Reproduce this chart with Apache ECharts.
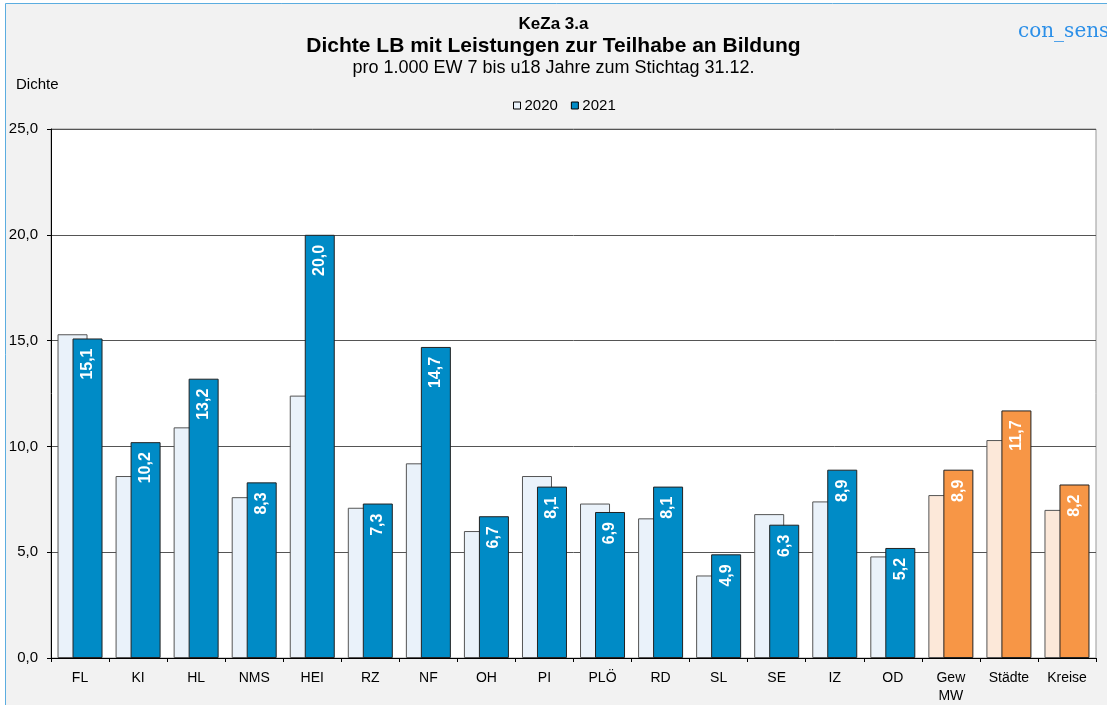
<!DOCTYPE html>
<html><head><meta charset="utf-8">
<script src="https://cdn.jsdelivr.net/npm/echarts@6/dist/echarts.min.js"></script>
<style>html,body{margin:0;padding:0;background:#fff}#c{width:1107px;height:705px}</style>
</head><body><div id="c"></div>
<script>
const categories = ['FL','KI','HL','NMS','HEI','RZ','NF','OH','PI','PLÖ','RD','SL','SE','IZ','OD','Gew\nMW','Städte','Kreise'];
const values2020 = [15.3,8.6,10.9,7.6,12.4,7.1,9.2,6.0,8.6,7.3,6.6,3.9,6.8,7.4,4.8,7.7,10.3,7.0];
const values2021 = [15.1,10.2,13.2,8.3,20.0,7.3,14.7,6.7,8.1,6.9,8.1,4.9,6.3,8.9,5.2,8.9,11.7,8.2];
const isAggregate = [0,0,0,0,0,0,0,0,0,0,0,0,0,0,0,1,1,1];
const yTicks = [0,5,10,15,20,25];

const c2020 = '#EAF2FA', c2021 = '#008BC6', o2020 = '#FCE8D9', o2021 = '#F79646';
const fmt = v => v.toFixed(1).replace('.', ',');
const font = 'Liberation Sans, Arial, sans-serif';

const chart = echarts.init(document.getElementById('c'));
chart.setOption({
  backgroundColor: '#ffffff',
  animation: false,
  textStyle: {fontFamily: font},
  graphic: [
    {type:'rect', z:-100, shape:{x:5.5,y:3.5,width:1200,height:800}, style:{fill:'#f2f2f2', stroke:'#5BADE0', lineWidth:1}},
    {type:'text', left:'center', top:16, style:{text:'KeZa 3.a', font:'bold 17px '+font, fill:'#000'}},
    {type:'text', left:'center', top:36, style:{text:'Dichte LB mit Leistungen zur Teilhabe an Bildung', font:'bold 21px '+font, fill:'#000'}},
    {type:'text', left:'center', top:59, style:{text:'pro 1.000 EW 7 bis u18 Jahre zum Stichtag 31.12.', font:'18px '+font, fill:'#000'}},
    {type:'text', left:16, top:77, style:{text:'Dichte', font:'15px '+font, fill:'#000'}},
    {type:'text', left:1018, top:22, style:{text:'con_sens', font:'20px "DejaVu Serif", "Liberation Serif", serif', fill:'#2b8fe8'}}
  ],
  legend: {
    top: 93, left: 508, itemWidth: 7, itemHeight: 7, itemGap: 13,
    icon: 'rect',
    textStyle: {fontSize: 15, color: '#000', fontFamily: font, padding:[0,0,0,-1]},
    data: [
      {name:'2020', itemStyle:{color:c2020, borderColor:'#000', borderWidth:1}},
      {name:'2021', itemStyle:{color:c2021, borderColor:'#000', borderWidth:1}}
    ]
  },
  grid: {left:51, right:11, top:129, bottom:46, show:true, backgroundColor:'#fff', borderColor:'#999', borderWidth:1},
  xAxis: {
    type:'category', data: categories,
    axisLine:{lineStyle:{color:'#000'}},
    axisTick:{show:true, alignWithLabel:false, length:4, lineStyle:{color:'#000'}},
    axisLabel:{color:'#000', fontSize:14, fontFamily:font, margin:11, lineHeight:18, interval:0}
  },
  yAxis: {
    type:'value', min:0, max:25, interval:5,
    axisLine:{show:true, lineStyle:{color:'#000'}},
    axisTick:{show:true, length:4, lineStyle:{color:'#000'}},
    axisLabel:{color:'#000', fontSize:15, fontFamily:font, formatter: fmt, margin:13},
    splitLine:{lineStyle:{color:'#555', width:1}}
  },
  series: [
    {
      name:'2020', type:'bar', barWidth:30, barGap:'-50%',
      itemStyle:{color:c2020, borderColor:'#555', borderWidth:1},
      data: values2020.map((v,i)=>({value:v, itemStyle:{color: isAggregate[i]?o2020:c2020}}))
    },
    {
      name:'2021', type:'bar', barWidth:30,
      itemStyle:{color:c2021, borderColor:'#222', borderWidth:1},
      label:{show:true, position:'insideTop', rotate:90, align:'right', verticalAlign:'middle', distance:10,
        color:'#fff', fontWeight:'bold', fontSize:16, fontFamily:font,
        formatter: p => fmt(p.value)},
      data: values2021.map((v,i)=>({value:v, itemStyle:{color: isAggregate[i]?o2021:c2021}}))
    }
  ]
});
</script></body></html>
